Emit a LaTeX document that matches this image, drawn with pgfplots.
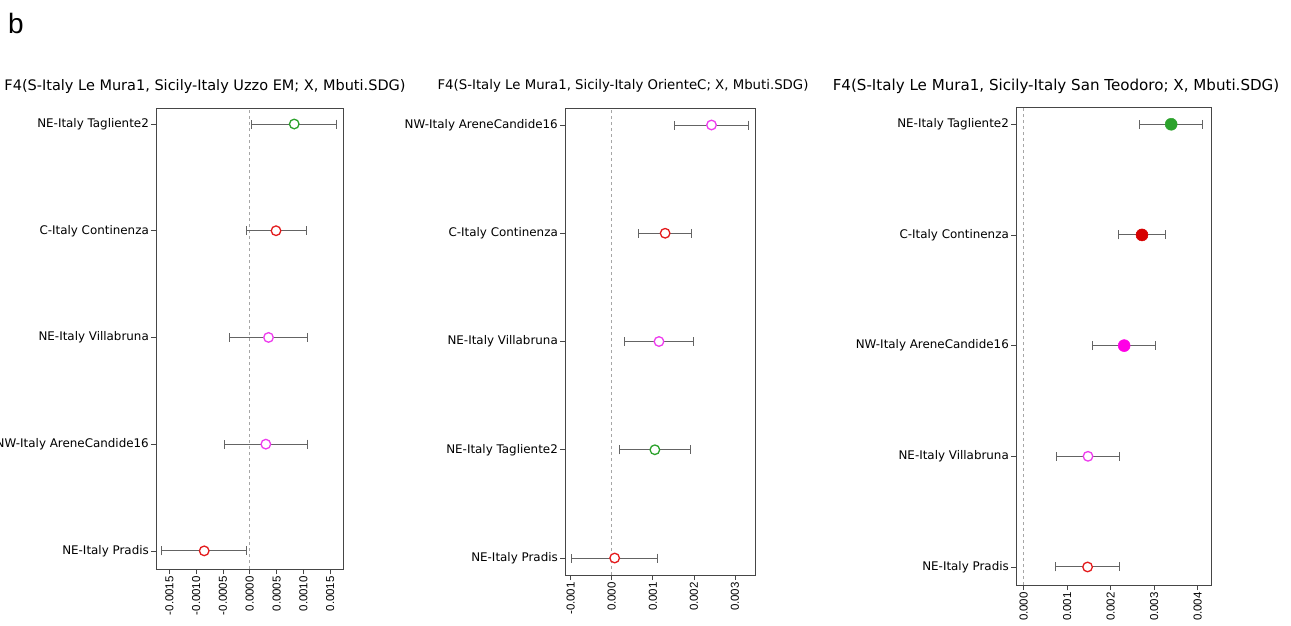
\documentclass[border=0pt]{standalone}
\usepackage{pgfplots}
\pgfplotsset{compat=1.18}
\usepackage{pgfplotstable}
\usepackage{fontspec}
\setmainfont{DejaVu Sans}
\newfontfamily\arialfont{Liberation Sans}

\definecolor{ggreen}{RGB}{44,162,44}
\definecolor{rred}{RGB}{228,26,28}
\definecolor{rfill}{RGB}{214,0,0}
\definecolor{mmag}{RGB}{238,60,238}
\definecolor{mfill}{RGB}{255,0,230}
\definecolor{ebar}{RGB}{100,100,100}
\definecolor{axc}{RGB}{70,70,70}

% y: 1=bottom row ... 5=top row; c: class (colour + open/filled)
\pgfplotstableread{
y x e c
5 0.00083 0.00079 go
4 0.00049 0.00056 ro
3 0.00035 0.00072 mo
2 0.00030 0.00078 mo
1 -0.00085 0.00079 ro
}\panelA
\pgfplotstableread{
y x e c
5 0.00243 0.00090 mo
4 0.00130 0.00064 ro
3 0.00115 0.00085 mo
2 0.00105 0.00086 go
1 0.00007 0.00104 ro
}\panelB
\pgfplotstableread{
y x e c
5 0.00339 0.00072 gf
4 0.00272 0.00054 rf
3 0.00231 0.00072 mf
2 0.00148 0.00072 mo
1 0.00147 0.00074 ro
}\panelC

\tikzset{zeroline/.style={draw=gray!70, dashed, line width=0.6pt}}
\pgfplotsset{
  panel/.style={
    anchor=north west, scale only axis,
    axis line style={axc, line width=0.8pt},
    tick style={axc, line width=0.7pt},
    major tick length=5pt,
    tick align=outside,
    xtick pos=bottom, ytick pos=left,
    ytick={1,2,3,4,5},
    yticklabel style={font=\fontsize{11.9}{14}\selectfont, inner sep=2pt},
    xticklabel style={rotate=90, anchor=east, font=\arialfont\fontsize{11.5}{13}\selectfont, inner sep=2pt},
    /pgf/number format/assume math mode=true,
    /pgf/number format/fixed, /pgf/number format/fixed zerofill,
    scaled x ticks=false,
    clip=false,
  },
  ebars/.style={only marks, mark=*, mark size=0.01pt, mark options={draw=none, fill=none},
    error bars/.cd, x dir=both, x explicit, error mark=|,
    error bar style={draw=ebar, line width=1pt},
    error mark options={draw=ebar, line width=1pt, mark size=4.5pt}},
  pts/.style={scatter, only marks, scatter src=explicit symbolic,
    scatter/classes={
      go={mark=*, mark size=4.8pt, draw=ggreen, fill=white, line width=1.3pt},
      ro={mark=*, mark size=4.8pt, draw=rred, fill=white, line width=1.3pt},
      mo={mark=*, mark size=4.8pt, draw=mmag, fill=white, line width=1.3pt},
      gf={mark=*, mark size=6pt, draw=ggreen, fill=ggreen, line width=0.5pt},
      rf={mark=*, mark size=6pt, draw=rfill, fill=rfill, line width=0.5pt},
      mf={mark=*, mark size=6pt, draw=mfill, fill=mfill, line width=0.5pt}}},
}

\begin{document}
\begin{tikzpicture}
\useasboundingbox (0pt,0pt) rectangle (1291pt,-625pt);

\node[anchor=base west, font=\arialfont\fontsize{28}{30}\selectfont, inner sep=0pt] at (8pt,-33pt) {b};

\node[font=\fontsize{14.5}{16}\selectfont] at (205pt,-86pt) {F4(S-Italy Le Mura1, Sicily-Italy Uzzo EM; X, Mbuti.SDG)};
\node[font=\fontsize{13.3}{16}\selectfont] at (623pt,-86pt) {F4(S-Italy Le Mura1, Sicily-Italy OrienteC; X, Mbuti.SDG)};
\node[font=\fontsize{15.1}{17}\selectfont] at (1056pt,-86pt) {F4(S-Italy Le Mura1, Sicily-Italy San Teodoro; X, Mbuti.SDG)};

% Panel 1
\begin{axis}[panel, at={(156pt,-108pt)}, width=187pt, height=461pt,
  xmin=-0.00175, xmax=0.00174, ymin=0.83, ymax=5.15,
  xtick={-0.0015,-0.001,-0.0005,0,0.0005,0.001,0.0015},
  /pgf/number format/precision=4,
  yticklabels={NE-Italy Pradis, NW-Italy AreneCandide16, NE-Italy Villabruna, C-Italy Continenza, NE-Italy Tagliente2}]
  \draw[zeroline] (axis cs:0,0.83) -- (axis cs:0,5.15);
  \addplot[ebars] table[x=x, y=y, x error=e] {\panelA};
  \addplot[pts] table[x=x, y=y, meta=c] {\panelA};
\end{axis}

% Panel 2
\begin{axis}[panel, at={(565pt,-108pt)}, width=190pt, height=467pt,
  xmin=-0.00114, xmax=0.00349, ymin=0.843, ymax=5.157,
  xtick={-0.001,0,0.001,0.002,0.003},
  /pgf/number format/precision=3,
  yticklabels={NE-Italy Pradis, NE-Italy Tagliente2, NE-Italy Villabruna, C-Italy Continenza, NW-Italy AreneCandide16}]
  \draw[zeroline] (axis cs:0,0.843) -- (axis cs:0,5.157);
  \addplot[ebars] table[x=x, y=y, x error=e] {\panelB};
  \addplot[pts] table[x=x, y=y, meta=c] {\panelB};
\end{axis}

% Panel 3
\begin{axis}[panel, at={(1016pt,-107pt)}, width=195pt, height=478pt,
  xmin=-0.000174, xmax=0.004305, ymin=0.837, ymax=5.156,
  xtick={0,0.001,0.002,0.003,0.004},
  /pgf/number format/precision=3,
  yticklabels={NE-Italy Pradis, NE-Italy Villabruna, NW-Italy AreneCandide16, C-Italy Continenza, NE-Italy Tagliente2}]
  \draw[zeroline] (axis cs:0,0.837) -- (axis cs:0,5.156);
  \addplot[ebars] table[x=x, y=y, x error=e] {\panelC};
  \addplot[pts] table[x=x, y=y, meta=c] {\panelC};
\end{axis}
\end{tikzpicture}
\end{document}
